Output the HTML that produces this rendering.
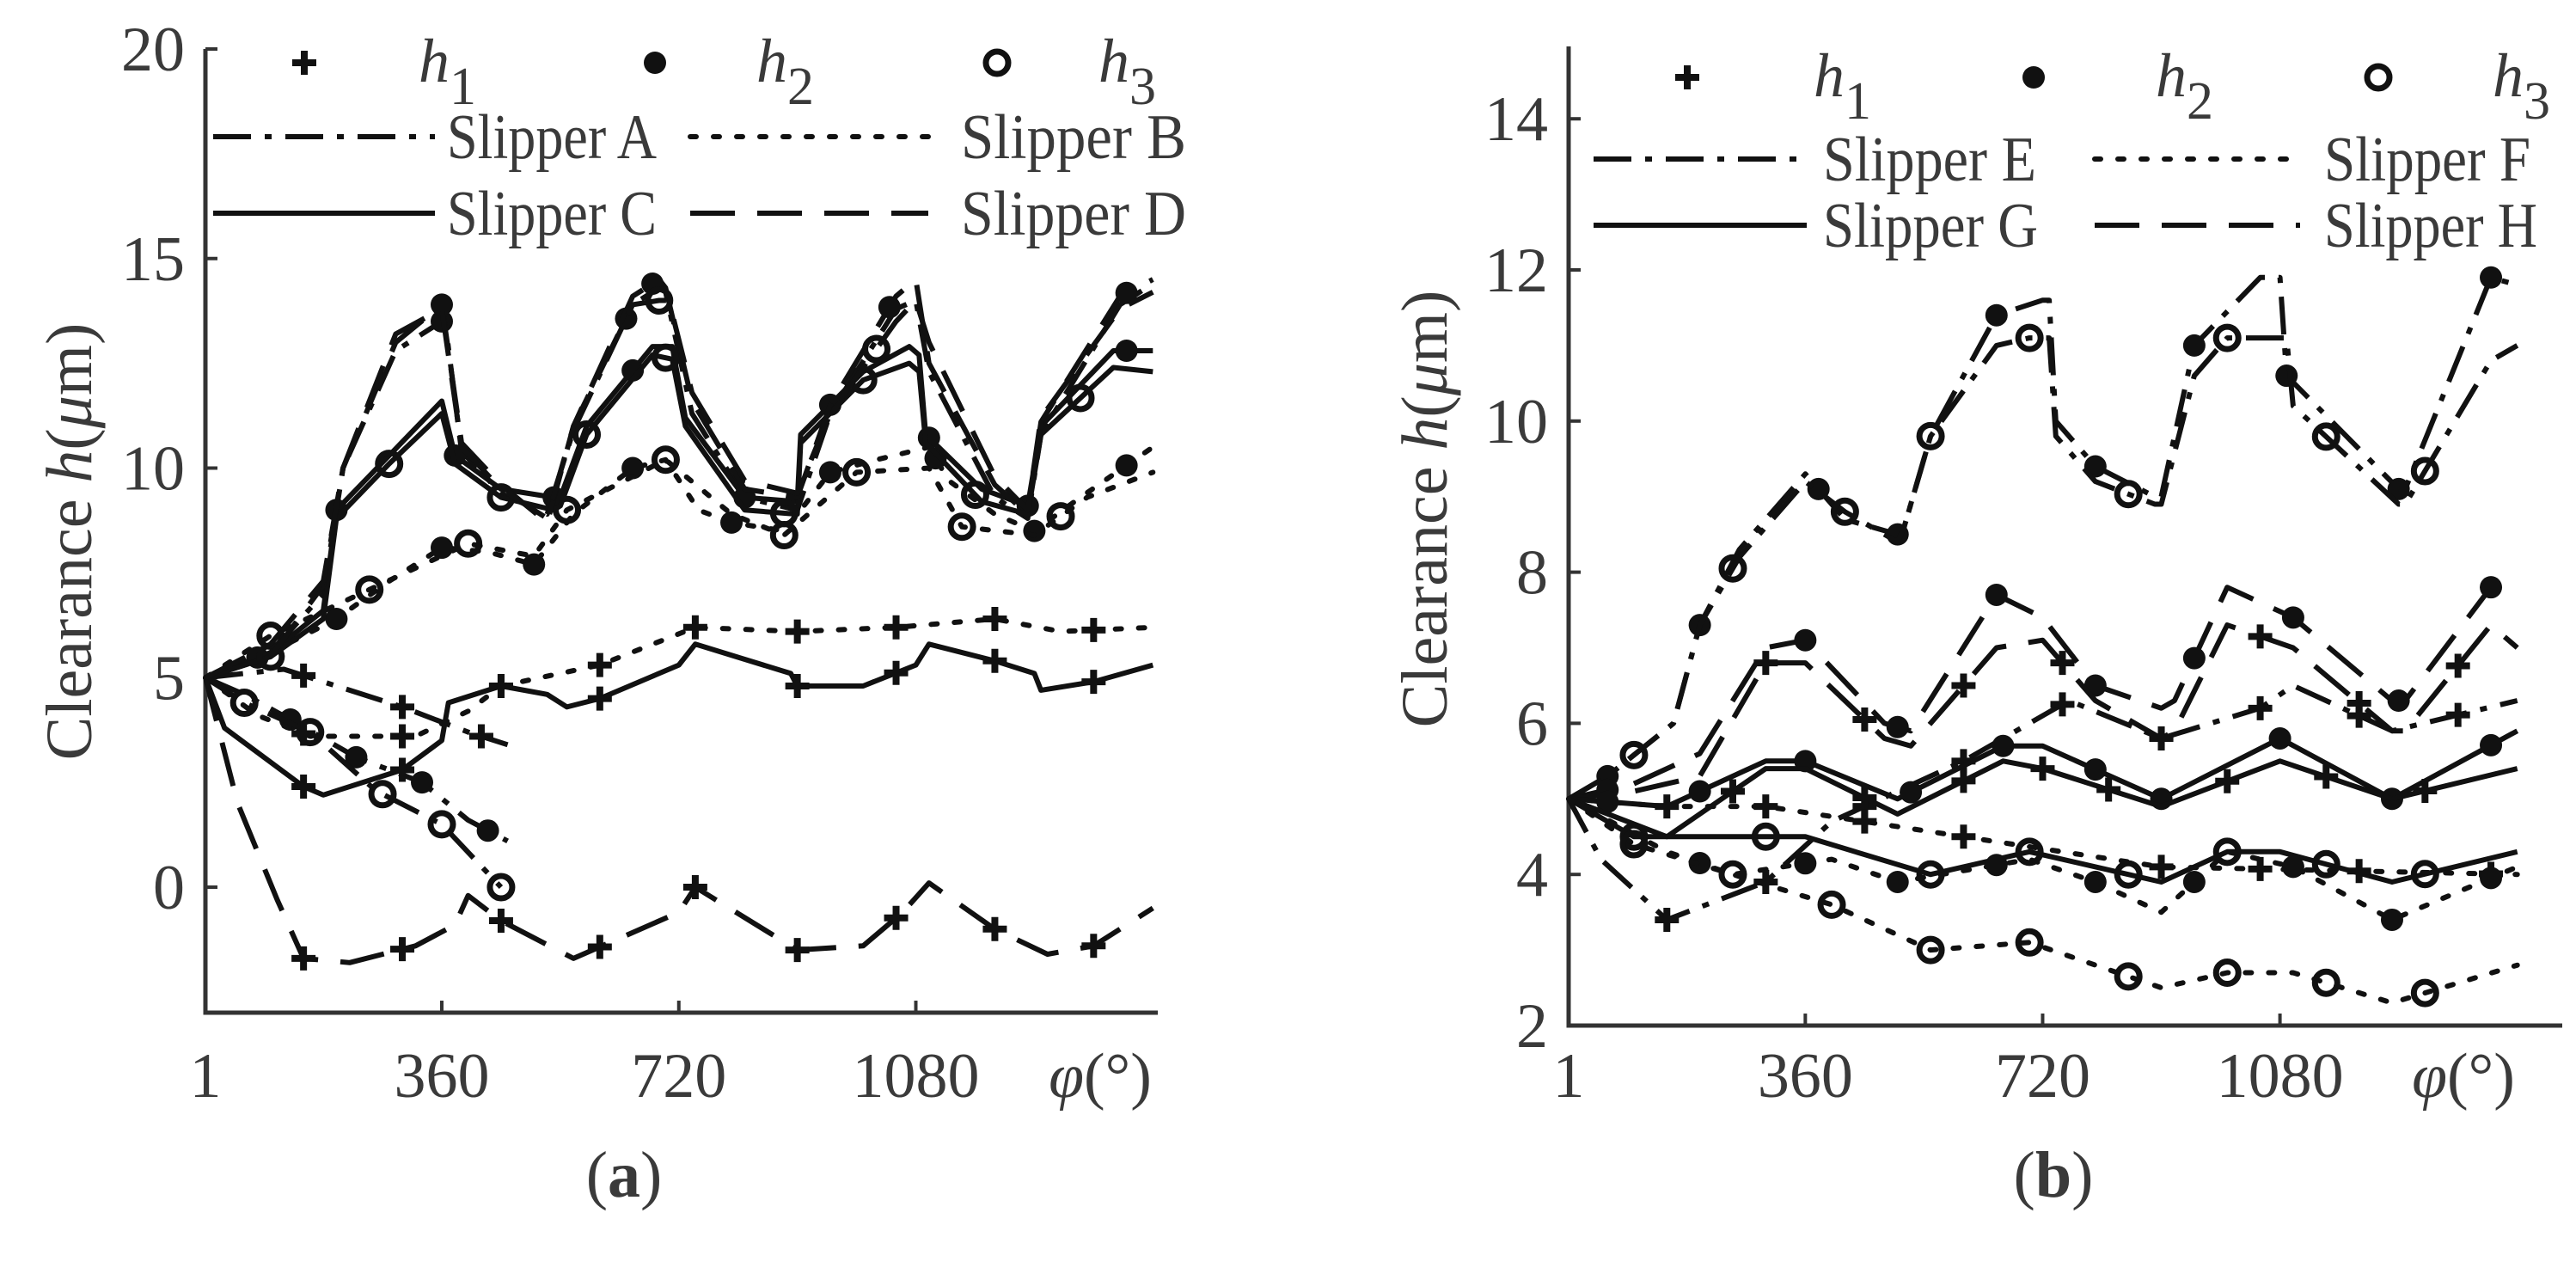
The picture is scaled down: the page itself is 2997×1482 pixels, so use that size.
<!DOCTYPE html>
<html><head><meta charset="utf-8"><style>
html,body{margin:0;padding:0;background:#fff}
svg{display:block}
text{font-family:"Liberation Serif",serif;fill:#3a3a3a}
</style></head><body>
<svg id="fig" width="2997" height="1482" viewBox="0 0 2997 1482" xmlns="http://www.w3.org/2000/svg">
<g id="pa"></g>
<g id="pb"></g>
</svg>
<script>
// ---------- Panel (a) data ----------
const aA1x=[1,60,120,200,300,400,460];
const aA1y=[5,5.1,5.2,4.8,4.3,3.7,3.4];
const aA2x=[1,60,130,230,330,400,460];
const aA2y=[5,4.6,4.0,3.1,2.5,1.6,1.1];
const aA3x=[1,60,160,260,360,450];
const aA3y=[5,4.4,3.7,2.3,1.5,0];
const aAUx=[1,100,180,210,290,360,365,390,450,520,560,650,690,700,740,820,900,950,1050,1080,1100,1200,1250,1270,1390,1440];
const aAUy=[5,5.6,7.0,10,12.8,13.5,13.5,10.4,9.4,8.9,10.9,13.9,14.3,14.2,11.3,9.3,9.0,11.3,13.8,14.0,12.3,9.3,8.8,10.8,13.9,14.4];
const aB1x=[1,80,160,320,400,450,600,745,900,1050,1200,1300,1440];
const aB1y=[5,4.1,3.6,3.6,4.2,4.8,5.3,6.2,6.1,6.2,6.4,6.1,6.2];
const aB2x=[1,100,200,280,360,430,500,560,650,700,750,800,880,950,1020,1100,1130,1200,1260,1330,1440];
const aB2y=[5,5.6,6.4,7.3,8.1,8.0,7.7,8.9,10.0,10.2,9.0,8.7,8.5,9.9,10.2,10.5,9.7,8.9,8.5,9.3,10.5];
const aB3x=[1,100,250,400,500,550,700,800,880,990,1100,1150,1260,1340,1440];
const aB3y=[5,6.0,7.1,8.2,7.9,9.0,10.2,8.9,8.4,9.9,10.0,8.6,8.4,9.3,9.9];
const aC1x=[1,30,150,180,300,360,370,450,520,550,600,720,745,890,900,1000,1080,1100,1200,1260,1270,1350,1440];
const aC1y=[5,3.8,2.4,2.2,2.8,3.5,4.4,4.8,4.6,4.3,4.5,5.3,5.8,5.1,4.8,4.8,5.3,5.8,5.4,5.1,4.7,4.9,5.3];
const aC2x=[1,100,180,200,280,360,380,450,530,540,580,680,710,730,820,900,905,1000,1070,1085,1095,1180,1250,1270,1380,1440];
const aC2y=[5,5.6,6.6,9.0,10.3,11.6,10.3,9.5,9.3,9.3,11.0,12.9,12.9,11.2,9.3,9.2,10.8,12.3,12.9,12.7,10.8,9.5,9.1,11.0,12.8,12.8];
const aC3x=[1,100,180,200,280,360,380,450,530,540,580,680,710,730,820,900,905,1000,1070,1085,1095,1180,1250,1270,1380,1440];
const aC3y=[5,5.5,6.4,8.8,10.1,11.3,10.1,9.3,9.0,9.1,10.8,12.7,12.6,11.0,9.0,8.9,10.6,12.1,12.5,12.3,10.6,9.2,8.9,10.8,12.4,12.3];
const aD1x=[1,50,110,150,220,320,380,400,450,560,720,745,900,1000,1060,1100,1200,1280,1350,1440];
const aD1y=[5,2,-0.3,-1.7,-1.8,-1.4,-0.9,-0.2,-0.8,-1.7,-0.6,0,-1.5,-1.4,-0.6,0.1,-1.0,-1.6,-1.4,-0.5];
const aDUx=[1,100,180,210,290,360,390,450,520,560,650,690,700,740,820,900,950,1050,1080,1100,1200,1250,1270,1390,1440];
const aDUy=[5,5.5,7.2,10,13.0,13.9,10.6,9.6,8.7,11.0,14.1,14.5,14.3,11.6,9.5,9.3,11.5,14.1,14.5,12.5,9.6,8.9,11.1,14.1,14.5];
const aD3x=[1,100,180,210,290,360,390,450,520,560,650,690,705,740,820,900,950,1050,1080,1100,1200,1250,1270,1390,1440];
const aD3y=[5,5.8,7.3,10,13.2,13.8,10.5,9.5,8.8,11,13.9,14.0,14.0,11.8,9.7,9.4,11.3,13.5,14.0,13.0,9.8,9.0,11.2,13.8,14.2];

// ---------- Panel (b) data ----------
const bE2x=[1,60,160,200,260,360,420,500,510,550,650,720,730,740,800,890,900,950,1050,1080,1090,1260,1270,1400,1440];
const bE2y=[5,5.3,6.0,7.3,8.3,9.3,8.7,8.5,8.6,9.8,11.4,11.6,11.6,10.0,9.4,9.0,9.0,11.0,11.9,11.9,10.6,9.1,9.1,11.9,11.8];
const bE3x=[1,60,160,200,260,360,420,500,510,550,650,700,730,740,800,890,900,950,1000,1090,1100,1260,1270,1400,1440];
const bE3y=[5,5.3,6.0,7.3,8.2,9.2,8.8,8.4,8.6,9.8,11.0,11.1,11.1,9.8,9.2,8.9,8.9,10.6,11.1,11.1,10.2,8.9,8.9,10.8,11.0];
const bE1x=[1,50,150,300,400,600,760,900,1050,1100,1250,1440];
const bE1y=[5,4.2,3.4,3.9,4.7,5.5,6.3,5.8,6.2,6.5,5.9,6.3];
const bH2x=[1,100,200,300,360,480,520,650,720,800,900,920,1000,1100,1250,1270,1400,1440];
const bH2y=[5,5.2,5.6,7.0,7.1,6.0,5.9,7.7,7.4,6.5,6.2,6.3,7.8,7.4,6.3,6.3,7.8,7.7];
const bH1x=[1,100,200,300,360,480,520,650,720,800,900,920,1000,1100,1250,1270,1400,1440];
const bH1y=[5,5.1,5.3,6.8,6.8,5.8,5.7,7.0,7.1,6.3,5.8,5.9,7.3,7.0,5.9,5.9,7.3,7.0];
const bG1x=[1,150,300,360,500,660,720,900,1080,1250,1440];
const bG1y=[5,4.9,5.5,5.5,5.0,5.7,5.7,5.0,5.8,5.0,5.9];
const bG2x=[1,150,300,360,500,660,720,900,1080,1250,1440];
const bG2y=[5,4.5,5.4,5.4,4.8,5.5,5.4,4.9,5.5,5.0,5.4];
const bG3x=[1,100,300,360,550,700,900,1000,1080,1250,1440];
const bG3y=[5,4.5,4.5,4.5,4.0,4.3,3.9,4.3,4.3,3.9,4.3];
const bF1x=[1,150,300,600,900,1440];
const bF1y=[5,4.9,4.9,4.5,4.1,4.0];
const bF2x=[1,150,250,400,500,700,800,900,1000,1100,1250,1440];
const bF2y=[5,4.3,4.0,4.2,3.9,4.2,3.9,3.5,4.3,4.1,3.4,4.1];
const bF3x=[1,100,250,400,550,700,900,1000,1100,1250,1440];
const bF3y=[5,4.4,4.0,3.6,3.0,3.1,2.5,2.7,2.7,2.3,2.8];

// marker angle positions
const mA1=[150,300,420]; const mA2=[130,230,330,430]; const mA3=[60,160,270,360,450];
const mAU=[360,640]; const mB1=[150,300,450,600,745,900,1050,1200,1350];
const mB2=[200,360,500,650,800,950,1110,1260,1400]; const mB3=[100,250,400,550,700,880,990,1150,1300];
const mC1=[150,300,450,600,900,1050,1200,1350]; const mC2=[80,200,380,530,650,820,950,1100,1250,1400];
const mC3=[100,280,450,580,700,880,1000,1170,1330]; const mD1=[150,300,450,600,745,900,1050,1200,1350];
const mDU=[360,680,1040,1400];
const mbE2=[60,200,380,500,650,800,950,1090,1260,1400]; const mbE3=[100,250,420,550,700,850,1000,1150,1300];
const mbE1=[150,300,450,600,750,900,1050,1200,1350]; const mbH2=[60,360,500,650,800,950,1100,1260,1400];
const mbH1=[300,450,600,750,900,1050,1200,1350]; const mbG1=[60,200,360,520,660,800,900,1080,1250,1400];
const mbG2=[250,450,600,720,820,1000,1150,1300]; const mbG3=[100,300,550,700,850,1000,1150,1300];
const mbF1=[150,300,450,600,900,1050,1200,1400]; const mbF2=[200,360,500,650,800,950,1100,1250,1400];
const mbF3=[100,250,400,550,700,850,1000,1150,1300];

const yTicksA=[0,5,10,15,20]; const yTicksB=[2,4,6,8,10,12,14];
const xTickLabels=["1","360","720","1080"]; const xTickVals=[1,360,720,1080];

const NS="http://www.w3.org/2000/svg";
function mk(tag,attrs,parent){const e=document.createElementNS(NS,tag);for(const k in attrs)e.setAttribute(k,attrs[k]);parent.appendChild(e);return e;}
const DASH={dashdot:"44 16 8 16",dotted:"7 20",solid:"",dashed:"52 26"};
function interp(xs,ys,d){for(let i=0;i<xs.length-1;i++){if(d>=xs[i]&&d<=xs[i+1]){const t=(d-xs[i])/(xs[i+1]-xs[i]||1);return ys[i]+t*(ys[i+1]-ys[i]);}}return ys[ys.length-1];}
function marker(g,type,x,y){
  if(type==='plus'){const p=mk('path',{d:`M${x-14} ${y}H${x+14}M${x} ${y-14}V${y+14}`,stroke:'#111','stroke-width':8,fill:'none'},g);
    }
  else if(type==='dot'){const c=mk('circle',{cx:x,cy:y,r:13,fill:'#111'},g);
    }
  else {const c=mk('circle',{cx:x,cy:y,r:13,fill:'none',stroke:'#111','stroke-width':7},g);
    }
}
function panel(P){
  const g=document.getElementById(P.id);
  const X=d=>P.x0+(d-1)*P.kx, Y=v=>P.y0-(v-P.vmin)*P.ky;
  const ax=mk('path',{d:`M${P.x0} ${P.top}V${P.y0b}H${P.xend}`,stroke:'#333','stroke-width':5,fill:'none'},g);
  
  P.yt.forEach(v=>{const y=Y(v);
    const t=mk('path',{d:`M${P.x0} ${y}H${P.x0+14}`,stroke:'#333','stroke-width':4},g);
    
    const l=mk('text',{x:P.x0-24,y:y+25,'font-size':74,'text-anchor':'end'},g);l.textContent=v;
    });
  xTickVals.forEach((d,i)=>{const x=X(d);
    if(i>0){const t=mk('path',{d:`M${x} ${P.y0b}V${P.y0b-14}`,stroke:'#333','stroke-width':4},g);
    }
    const l=mk('text',{x:x,y:1276,'font-size':74,'text-anchor':'middle'},g);l.textContent=xTickLabels[i];
    });
  const xl=mk('text',{x:P.phiX,y:1276,'font-size':74,'text-anchor':'middle'},g);
  xl.innerHTML='<tspan font-style="italic">φ</tspan>(°)';
  
  const yl=mk('text',{x:0,y:0,'font-size':76,'text-anchor':'middle',transform:`translate(${P.ylx},${P.yly}) rotate(-90)`},g);
  yl.innerHTML='Clearance <tspan font-style="italic">h</tspan>(<tspan font-style="italic">μ</tspan>m)';
  
  const cap=mk('text',{x:P.capX,y:1392,'font-size':76,'text-anchor':'middle'},g);
  cap.innerHTML='(<tspan font-weight="bold">'+P.cap+'</tspan>)';
  
  P.series.forEach(s=>{
    const pts=s.xs.map((d,i)=>X(d).toFixed(1)+','+Y(s.ys[i]).toFixed(1)).join(' ');
    const pl=mk('polyline',{points:pts,fill:'none',stroke:'#111','stroke-width':6,'stroke-linejoin':'round','stroke-linecap':s.style==='dotted'?'round':'butt'},g);
    if(DASH[s.style])pl.setAttribute('stroke-dasharray',DASH[s.style]);
    
    
    s.m.forEach(d=>marker(g,s.mk,X(d),Y(interp(s.xs,s.ys,d))));
  });
  const lg=mk('g',{},g);
  
  ['plus','dot','ring'].forEach((t,i)=>{marker(lg,t,P.lgM[i],P.lgY0);
    const l=mk('text',{x:P.lgH[i],y:P.lgY0+22,'font-size':72,'font-style':'italic',fill:'#111'},lg);
    l.innerHTML='h<tspan dy="26" font-style="normal" font-size="62">'+(i+1)+'</tspan>';
    });
  P.names.forEach((n,i)=>{const row=i>>1,col=i&1;const y=P.lgY[row];
    const ln=mk('line',{x1:P.lgL[col][0],x2:P.lgL[col][1],y1:y,y2:y,stroke:'#111','stroke-width':6},lg);
    if(DASH[P.styles[i]])ln.setAttribute('stroke-dasharray',DASH[P.styles[i]]);
    if(P.styles[i]==='dotted')ln.setAttribute('stroke-linecap','round');
    
    const t=mk('text',{x:P.lgT[col],y:y+25,'font-size':74,textLength:P.lgW[i],lengthAdjust:'spacingAndGlyphs',fill:'#111'},lg);
    t.textContent=n;});
}
panel({id:'pa',x0:239,kx:0.766,y0:1032,vmin:0,ky:48.75,top:57,y0b:1178,xend:1347,yt:yTicksA,phiX:1280,ylx:106,yly:630,capX:726,cap:'a',
  series:[
   {name:'slipper-a-h1',xs:aA1x,ys:aA1y,style:'dashdot',mk:'plus',m:mA1},
   {name:'slipper-a-h2',xs:aA2x,ys:aA2y,style:'dashdot',mk:'dot',m:mA2},
   {name:'slipper-a-h3',xs:aA3x,ys:aA3y,style:'dashdot',mk:'ring',m:mA3},
   {name:'slipper-a-upper',xs:aAUx,ys:aAUy,style:'dashdot',mk:'dot',m:mAU},
   {name:'slipper-b-h1',xs:aB1x,ys:aB1y,style:'dotted',mk:'plus',m:mB1},
   {name:'slipper-b-h2',xs:aB2x,ys:aB2y,style:'dotted',mk:'dot',m:mB2},
   {name:'slipper-b-h3',xs:aB3x,ys:aB3y,style:'dotted',mk:'ring',m:mB3},
   {name:'slipper-c-h1',xs:aC1x,ys:aC1y,style:'solid',mk:'plus',m:mC1},
   {name:'slipper-c-h2',xs:aC2x,ys:aC2y,style:'solid',mk:'dot',m:mC2},
   {name:'slipper-c-h3',xs:aC3x,ys:aC3y,style:'solid',mk:'ring',m:mC3},
   {name:'slipper-d-h1',xs:aD1x,ys:aD1y,style:'dashed',mk:'plus',m:mD1},
   {name:'slipper-d-h2',xs:aDUx,ys:aDUy,style:'dashed',mk:'dot',m:mDU},
   {name:'slipper-d-h3',xs:aD3x,ys:aD3y,style:'dashed',mk:'ring',m:[690,1020]}],
  lgM:[354,762,1160],lgH:[487,880,1278],lgY0:73,lgY:[159,248],lgL:[[248,506],[803,1080]],lgT:[520,1118],
  lgW:[244,262,244,262],names:['Slipper A','Slipper B','Slipper C','Slipper D'],styles:['dashdot','dotted','solid','dashed']});
panel({id:'pb',x0:1825,kx:0.767,y0:1193,vmin:2,ky:87.9,top:54,y0b:1193,xend:2981,yt:yTicksB,phiX:2866,ylx:1683,yly:592,capX:2389,cap:'b',
  series:[
   {name:'slipper-e-h2',xs:bE2x,ys:bE2y,style:'dashdot',mk:'dot',m:mbE2},
   {name:'slipper-e-h3',xs:bE3x,ys:bE3y,style:'dashdot',mk:'ring',m:mbE3},
   {name:'slipper-e-h1',xs:bE1x,ys:bE1y,style:'dashdot',mk:'plus',m:mbE1},
   {name:'slipper-h-h2',xs:bH2x,ys:bH2y,style:'dashed',mk:'dot',m:mbH2},
   {name:'slipper-h-h1',xs:bH1x,ys:bH1y,style:'dashed',mk:'plus',m:mbH1},
   {name:'slipper-g-h2',xs:bG1x,ys:bG1y,style:'solid',mk:'dot',m:mbG1},
   {name:'slipper-g-h1',xs:bG2x,ys:bG2y,style:'solid',mk:'plus',m:mbG2},
   {name:'slipper-g-h3',xs:bG3x,ys:bG3y,style:'solid',mk:'ring',m:mbG3},
   {name:'slipper-f-h1',xs:bF1x,ys:bF1y,style:'dotted',mk:'plus',m:mbF1},
   {name:'slipper-f-h2',xs:bF2x,ys:bF2y,style:'dotted',mk:'dot',m:mbF2},
   {name:'slipper-f-h3',xs:bF3x,ys:bF3y,style:'dotted',mk:'ring',m:mbF3}],
  lgM:[1963,2366,2767],lgH:[2110,2508,2900],lgY0:90,lgY:[185,262],lgL:[[1854,2102],[2437,2676]],lgT:[2121,2704],
  lgW:[248,240,250,248],names:['Slipper E','Slipper F','Slipper G','Slipper H'],styles:['dashdot','dotted','solid','dashed']});
</script>
</body></html>
